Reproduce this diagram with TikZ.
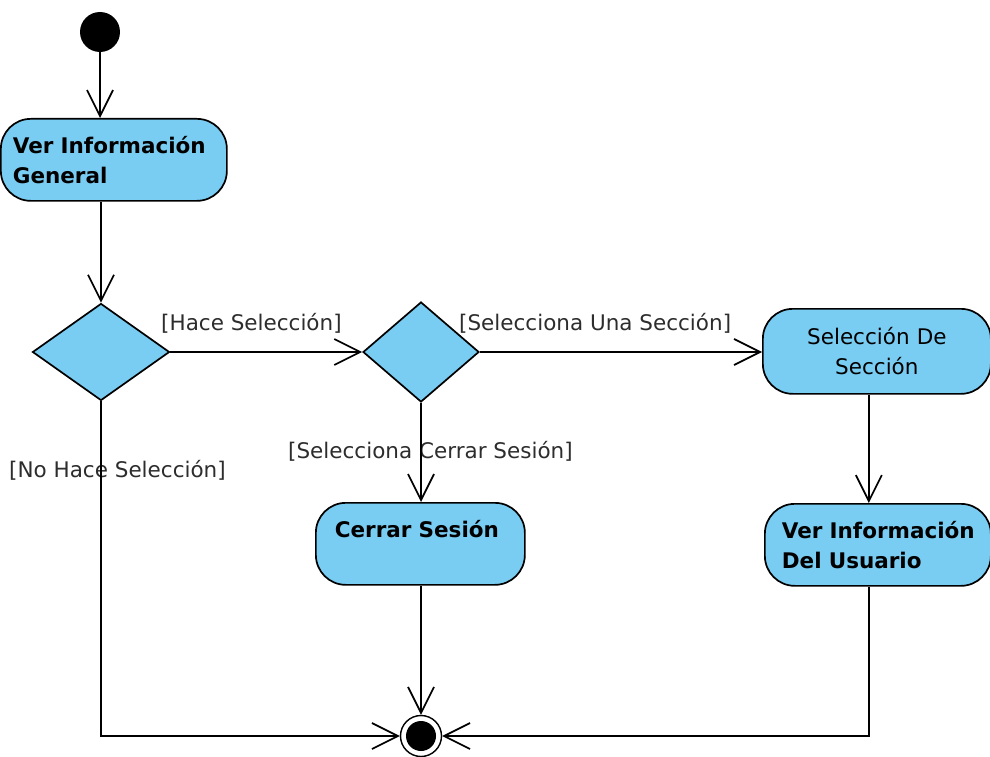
\documentclass[tikz,border=0pt]{standalone}
\usepackage{fontspec}
\setmainfont{DejaVu Sans}
\usetikzlibrary{shapes.geometric,arrows.meta}
\definecolor{actfill}{RGB}{122,205,242}
\definecolor{guardtext}{RGB}{45,45,45}
\begin{document}
\begin{tikzpicture}[x=1pt,y=-1pt,
  every node/.style={font=\fontsize{21.5}{30}\selectfont},
  boldtext/.style={font=\fontsize{21.5}{30}\selectfont\bfseries},
  action/.style={draw=black, line width=1.7pt, fill=actfill, rounded corners=30pt,
    inner ysep=0pt, anchor=north west, minimum height=#1},
  decision/.style={draw=black, line width=1.7pt, fill=actfill, diamond, inner sep=0pt},
  guard/.style={text=guardtext, inner sep=0pt, anchor=west},
  flow/.style={draw=black, line width=1.7pt, -{Straight Barb[length=26pt,width=26pt,line width=1.7pt]}}
]
\useasboundingbox (0,0) rectangle (990,757);

% start and end
\node[circle, fill=black, minimum size=40pt, inner sep=0pt] (init) at (100,32) {};
\node[circle, draw=black, line width=1.4pt, fill=white, minimum size=41pt, inner sep=0pt,
  path picture={\fill[black] (path picture bounding box.center) circle (15pt);}]
  (final) at (421,736) {};

% actions
\node[action=82pt, inner xsep=12pt, text width=202pt, align=left, boldtext]
  (vig) at (0,118) {\mbox{Ver Información}\\General};
\node[action=85pt, inner xsep=10pt, text width=208pt, align=center]
  (sds) at (762,308) {Selección De\\Sección};
\node[action=82pt, inner xsep=17pt, text width=192pt, align=left, boldtext]
  (vidu) at (764,503) {\mbox{Ver Información}\\\mbox{Del Usuario}};
\node[action=82pt, inner xsep=19pt, text width=171pt, align=left, boldtext]
  (cs) at (315,502) {\mbox{Cerrar Sesión}\\\mbox{}};

% decisions
\node[decision, minimum width=137pt, minimum height=97pt] (d1) at (101,352) {};
\node[decision, minimum width=116pt, minimum height=100pt] (d2) at (421,352) {};

% guards
\node[guard] (g1) at (161,323) {[Hace Selección]};
\node[guard] (g2) at (459,323) {[Selecciona Una Sección]};
\node[guard] (g3) at (288,451) {[Selecciona Cerrar Sesión]};
\node[guard] (g4) at (9,470) {[No Hace Selección]};

% transitions
\draw[flow] (init.south) -- (init.south |- vig.north);
\draw[flow] (d1.north |- vig.south) -- (d1.north);
\draw[flow] (d1.east) -- (d2.west);
\draw[flow] (d2.east) -- (d2.east -| sds.west);
\draw[flow] (d2.south) -- (d2.south |- cs.north);
\draw[flow] ([xshift=-8pt]sds.south) -- ([xshift=-8pt]sds.south |- vidu.north);
\draw[flow] (final.north |- cs.south) -- (final.north);
\draw[flow] (d1.south) |- (final.west);
\draw[flow] ([xshift=-9pt]vidu.south) |- (final.east);
\end{tikzpicture}
\end{document}
